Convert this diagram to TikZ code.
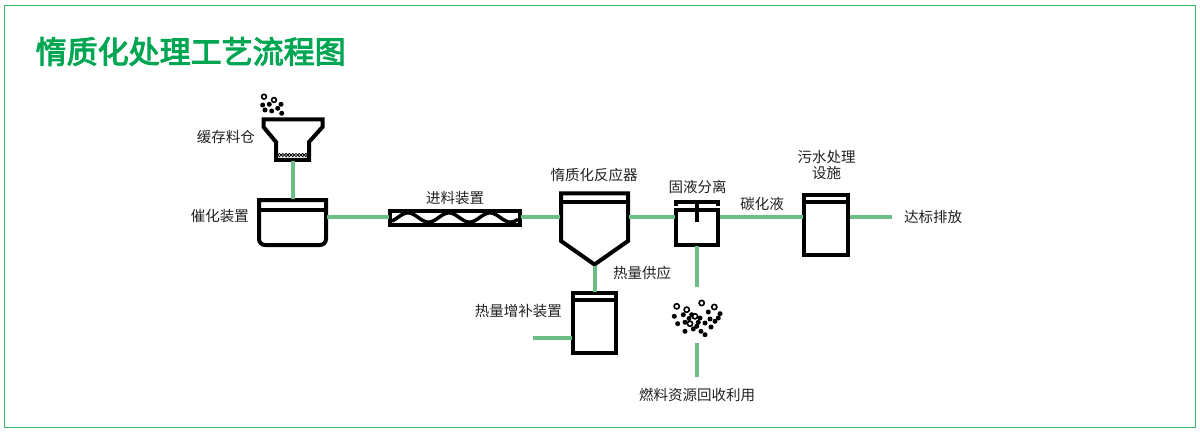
\documentclass[tikz,border=0pt]{standalone}
\usepackage{fontspec}
\setmainfont{Noto Sans CJK SC}
\newfontfamily\titlefont[FakeBold=3.2]{Noto Sans CJK SC}
\definecolor{titlegreen}{RGB}{0,166,81}
\definecolor{framegreen}{RGB}{52,180,100}
\definecolor{linkgreen}{RGB}{108,191,132}
\definecolor{labelgray}{RGB}{35,31,32}
\begin{document}
\begin{tikzpicture}[x=1pt,y=-1pt,
  conn/.style={draw=linkgreen,line width=4pt},
  blk/.style={draw=black,line width=4pt,line join=miter},
  thinline/.style={draw=black,line width=0.8pt},
  lbl/.style={text=labelgray,font=\fontsize{14.5}{16}\selectfont,inner sep=0pt},
  dotf/.style={fill=black},
  ring/.style={draw=black,line width=1.6pt}]
\useasboundingbox (0,0) rectangle (1200,433);
\draw[framegreen,line width=1.5pt] (4.5,5.5) rectangle (1195.5,427.5);
\node[anchor=west,text=titlegreen,font=\titlefont\fontsize{31}{34}\selectfont,inner sep=0pt] (title) at (35.5,51.5) {惰质化处理工艺流程图};

% ---------- hopper ----------
\draw[blk] (263.5,119.5) -- (322.5,119.5) -- (322.5,127) -- (309,142) -- (309,160) -- (276,160) -- (276,142) -- (263.5,127) -- cycle;
\foreach \i in {0,...,8} \draw[thinline] (279.5+\i*3.3,155) circle (1.6);
\foreach \p in {(262.7,105),(269.3,104.3),(281,104.3),(265,110),(271.7,111),(277.7,108.3),(281.7,113.3)} \fill[dotf] \p circle (2.5);
\foreach \p in {(264,96.7),(274,100)} \draw[ring] \p circle (2.4);
\coordinate (hopB) at (293,161);
\node[lbl,anchor=east] (hopL) at (255,137) {缓存料仓};

% ---------- catalysis box ----------
\draw[blk] (259,215) -- (259,200) -- (326,200) -- (326,215) [rounded corners=6pt] -- (326,245) -- (259,245) -- (259,215) -- cycle;
\draw[blk] (259,210) -- (326,210);
\coordinate (catT) at (293,199);
\coordinate (catR) at (327,217);
\node[lbl,anchor=east] (catL) at (249,216) {催化装置};

% ---------- feeder ----------
\draw[blk] (390,211) rectangle (520,225);
\draw[black,line width=3.5pt] plot[domain=392:518,samples=90,smooth] (\x,{217.5-4.6*cos(8.7805*(\x-408))});
\coordinate (feedL) at (389,217);
\coordinate (feedR) at (521,217);
\node[lbl] (feedLbl) at (455,198) {进料装置};

% ---------- reactor ----------
\draw[blk] (561,193.5) -- (628,193.5) -- (628,241) -- (594.5,264.5) -- (561,241) -- cycle;
\draw[blk] (561,202) -- (628,202);
\coordinate (reacL) at (560,217);
\coordinate (reacR) at (629,217);
\coordinate (reacB) at (594.5,266);
\node[lbl] (reacLbl) at (594,175) {惰质化反应器};
\node[lbl,anchor=west] (heatSup) at (613,273) {热量供应};

% ---------- heat box ----------
\draw[blk] (573,293) rectangle (616,353);
\draw[blk] (573,300) -- (616,300);
\coordinate (heatT) at (594.5,292);
\coordinate (heatL) at (572,338);
\coordinate (heatIn) at (533,338);
\node[lbl,anchor=east] (heatLbl) at (562,311) {热量增补装置};

% ---------- separator ----------
\draw[blk] (675.75,206) -- (675.75,201.5) -- (718.25,201.5) -- (718.25,206);
\draw[blk] (697,201.5) -- (697,222);
\draw[blk] (675.75,210) rectangle (718.25,244.5);
\coordinate (sepL) at (674.5,217);
\coordinate (sepR) at (719.5,217);
\coordinate (sepB) at (697,245.5);
\coordinate (sepDn) at (697,287);
\node[lbl] (sepLbl) at (697.5,186.5) {固液分离};

% ---------- solids ----------
\foreach \p in {(674.3,316.3),(683.3,314.7),(691.7,314.7),(708.3,312),(720,313.7),(718.3,318),(710,319),(700,318),(705,323),(677.7,323.7),(685,322.3),(696.7,326.3),(693.3,329),(685,331.3),(701,331.3),(705,334.7),(715,321.3),(698.3,322.3),(689,318.5),(711,327)} \fill[dotf] \p circle (2.5);
\foreach \p in {(676.7,306.3),(701.7,303),(714.3,307),(686.7,309.7),(695,316.3),(690,323.7)} \draw[ring] \p circle (2.6);
\coordinate (solUp) at (697,343);
\coordinate (solDn) at (697,377);
\node[lbl] (fuelLbl) at (697,395) {燃料资源回收利用};

% ---------- wastewater ----------
\draw[blk] (803.75,195) rectangle (848.25,255);
\draw[blk] (803.75,201.5) -- (848.25,201.5);
\coordinate (wwL) at (802.5,217);
\coordinate (wwR) at (849.5,217);
\coordinate (outE) at (892,217);
\node[lbl,align=center,font=\fontsize{14.5}{16}\selectfont] (wwLbl) at (826.5,165) {污水处理\\设施};
\node[lbl] (liqLbl) at (762,204) {碳化液};
\node[lbl,anchor=west] (outLbl) at (904,217) {达标排放};

% ---------- connectors ----------
\draw[conn] (hopB) -- (catT);
\draw[conn] (catR) -- (feedL);
\draw[conn] (feedR) -- (reacL);
\draw[conn] (reacR) -- (sepL);
\draw[conn] (sepR) -- (wwL);
\draw[conn] (wwR) -- (outE);
\draw[conn] (reacB) -- (heatT);
\draw[conn] (heatIn) -- (heatL);
\draw[conn] (sepB) -- (sepDn);
\draw[conn] (solUp) -- (solDn);
\end{tikzpicture}
\end{document}
